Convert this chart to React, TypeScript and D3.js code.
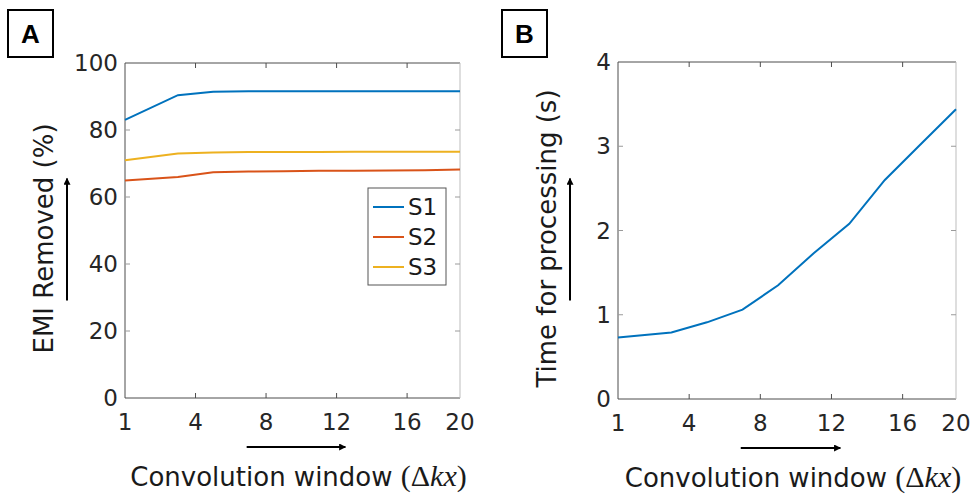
import React, { useEffect, useRef } from 'react';
import * as d3 from 'd3';

// x positions of the convolution window samples on the axis (axis runs 0..19, labelled 1..20)
const WINDOW_POS = [0, 3, 5, 7, 9, 11, 13, 15, 17, 19];
const X_TICK_POS = [0, 4, 8, 12, 16, 19];
const X_TICK_LABELS = ['1', '4', '8', '12', '16', '20'];

// panel A: EMI removed (%)
const S1 = [83.0, 90.4, 91.4, 91.6, 91.6, 91.6, 91.6, 91.6, 91.6, 91.6];
const S2 = [64.9, 66.0, 67.4, 67.6, 67.7, 67.8, 67.8, 67.9, 68.0, 68.2];
const S3 = [71.0, 73.0, 73.3, 73.4, 73.4, 73.4, 73.5, 73.5, 73.5, 73.5];
const SERIES_NAMES = ['S1', 'S2', 'S3'];
const SERIES_COLORS = ['#0072BD', '#D95319', '#EDB120'];
const A_Y_TICKS = [0, 20, 40, 60, 80, 100];

// panel B: time for processing (s)
const TIME = [0.73, 0.79, 0.91, 1.06, 1.35, 1.73, 2.08, 2.6, 3.02, 3.44];
const B_Y_TICKS = [0, 1, 2, 3, 4];

const W = 974;
const H = 496;
const FONT = 'DejaVu Sans, Verdana, sans-serif';
const MATH_FONT = 'Liberation Serif, serif';
const TICK_SIZE = 23;
const LABEL_SIZE = 26;
const AXIS_COLOR = '#4d4d4d';

const App = () => {
  const svgRef = useRef(null);

  useEffect(() => {
    const svg = d3.select(svgRef.current);
    svg.selectAll('*').remove();

    // arrow head for the direction arrows next to the labels
    svg
      .append('defs')
      .append('marker')
      .attr('id', 'head')
      .attr('viewBox', '0 0 10 10')
      .attr('refX', 9)
      .attr('refY', 5)
      .attr('markerWidth', 9)
      .attr('markerHeight', 7)
      .attr('markerUnits', 'userSpaceOnUse')
      .attr('orient', 'auto')
      .append('path')
      .attr('d', 'M0,0 L10,5 L0,10 z')
      .attr('fill', '#000');

    const drawPanel = (opts) => {
      const { left, top, width, height, yMax, yTicks, series, yLabel, letter, letterX } = opts;
      const x = d3.scaleLinear().domain([0, 19]).range([left, left + width]);
      const y = d3.scaleLinear().domain([0, yMax]).range([top + height, top]);
      const g = svg.append('g');

      // panel letter in a box
      g.append('rect')
        .attr('x', letterX)
        .attr('y', 10)
        .attr('width', 45)
        .attr('height', 47)
        .attr('fill', 'none')
        .attr('stroke', '#000')
        .attr('stroke-width', 2);
      g.append('text')
        .attr('x', letterX + 22.5)
        .attr('y', 43)
        .attr('text-anchor', 'middle')
        .attr('font-family', 'Liberation Sans, Arial, sans-serif')
        .attr('font-weight', 'bold')
        .attr('font-size', 26)
        .text(letter);

      // box
      const x0 = x(0), x1 = x(19), y0 = y(0), y1 = y(yMax);
      g.append('path')
        .attr('d', `M${x0},${y1}H${x1}M${x0},${y1}V${y0}H${x1}`)
        .attr('stroke', AXIS_COLOR)
        .attr('fill', 'none');
      g.append('line')
        .attr('x1', x1).attr('x2', x1).attr('y1', y1).attr('y2', y0)
        .attr('stroke', '#bdbdbd');

      // inward ticks on all four sides
      X_TICK_POS.slice(1, -1).forEach((p) => {
        g.append('path')
          .attr('d', `M${x(p)},${y0}v-5M${x(p)},${y1}v5`)
          .attr('stroke', AXIS_COLOR);
      });
      yTicks.slice(1, -1).forEach((v) => {
        g.append('path')
          .attr('d', `M${x0},${y(v)}h5M${x1},${y(v)}h-5`)
          .attr('stroke', '#9a9a9a');
      });

      // tick labels
      g.selectAll('.xt')
        .data(X_TICK_POS)
        .enter()
        .append('text')
        .attr('x', (d) => x(d))
        .attr('y', y0 + 32)
        .attr('text-anchor', 'middle')
        .attr('font-family', FONT)
        .attr('font-size', TICK_SIZE)
        .attr('fill', '#262626')
        .text((d, i) => X_TICK_LABELS[i]);
      g.selectAll('.yt')
        .data(yTicks)
        .enter()
        .append('text')
        .attr('x', x0 - 7)
        .attr('y', (d) => y(d) + 8)
        .attr('text-anchor', 'end')
        .attr('font-family', FONT)
        .attr('font-size', TICK_SIZE)
        .attr('fill', '#262626')
        .text((d) => d);

      // lines
      const line = d3
        .line()
        .x((d, i) => x(WINDOW_POS[i]))
        .y((d) => y(d));
      series.forEach((s) => {
        g.append('path')
          .datum(s.values)
          .attr('d', line)
          .attr('fill', 'none')
          .attr('stroke', s.color)
          .attr('stroke-width', 2);
      });

      // x label with the math part in serif
      const xl = g.append('text')
        .attr('x', (x0 + x1) / 2 + 6)
        .attr('y', y0 + 88)
        .attr('text-anchor', 'middle')
        .attr('font-family', FONT)
        .attr('font-size', LABEL_SIZE)
        .attr('fill', '#1a1a1a');
      xl.append('tspan').text('Convolution window ');
      xl.append('tspan').attr('font-family', MATH_FONT).attr('font-size', 30).text('(Δ');
      xl.append('tspan').attr('font-family', MATH_FONT).attr('font-size', 30).attr('font-style', 'italic').text('kx');
      xl.append('tspan').attr('font-family', MATH_FONT).attr('font-size', 30).text(')');

      // x direction arrow
      g.append('line')
        .attr('x1', x(6.9)).attr('x2', x(12.5))
        .attr('y1', y0 + 49).attr('y2', y0 + 49)
        .attr('stroke', '#000')
        .attr('stroke-width', 2)
        .attr('marker-end', 'url(#head)');

      // y label + arrow
      const cy = (y0 + y1) / 2 + 8;
      g.append('text')
        .attr('transform', `translate(${opts.yLabelX},${cy}) rotate(-90)`)
        .attr('text-anchor', 'middle')
        .attr('font-family', FONT)
        .attr('font-size', LABEL_SIZE)
        .attr('fill', '#1a1a1a')
        .text(yLabel);
      g.append('line')
        .attr('x1', opts.yLabelX + 14).attr('x2', opts.yLabelX + 14)
        .attr('y1', cy + 62).attr('y2', cy - 60)
        .attr('stroke', '#000')
        .attr('stroke-width', 2)
        .attr('marker-end', 'url(#head)');

      return { g, x, y };
    };

    const a = drawPanel({
      left: 125, top: 63, width: 335, height: 335,
      yMax: 100, yTicks: A_Y_TICKS,
      series: [S1, S2, S3].map((values, i) => ({ values, color: SERIES_COLORS[i] })),
      yLabel: 'EMI Removed (%)', letter: 'A', letterX: 8, yLabelX: 53,
    });

    // legend for panel A
    const lx = 368, ly = 188;
    const legend = a.g.append('g');
    legend.append('rect')
      .attr('x', lx).attr('y', ly).attr('width', 78).attr('height', 97)
      .attr('fill', '#fff').attr('stroke', '#555');
    SERIES_NAMES.forEach((name, i) => {
      const yy = ly + 19 + i * 30;
      legend.append('line')
        .attr('x1', lx + 5).attr('x2', lx + 36).attr('y1', yy).attr('y2', yy)
        .attr('stroke', SERIES_COLORS[i]).attr('stroke-width', 2);
      legend.append('text')
        .attr('x', lx + 40).attr('y', yy + 8)
        .attr('font-family', FONT).attr('font-size', TICK_SIZE).attr('fill', '#1a1a1a')
        .text(name);
    });

    drawPanel({
      left: 618, top: 62, width: 338, height: 337,
      yMax: 4, yTicks: B_Y_TICKS,
      series: [{ values: TIME, color: SERIES_COLORS[0] }],
      yLabel: 'Time for processing (s)', letter: 'B', letterX: 502, yLabelX: 556,
    });
  }, []);

  return (
    <svg
      ref={svgRef}
      width={W}
      height={H}
      style={{ position: 'absolute', left: 0, top: 0, background: '#fff' }}
    />
  );
};

export default App;
